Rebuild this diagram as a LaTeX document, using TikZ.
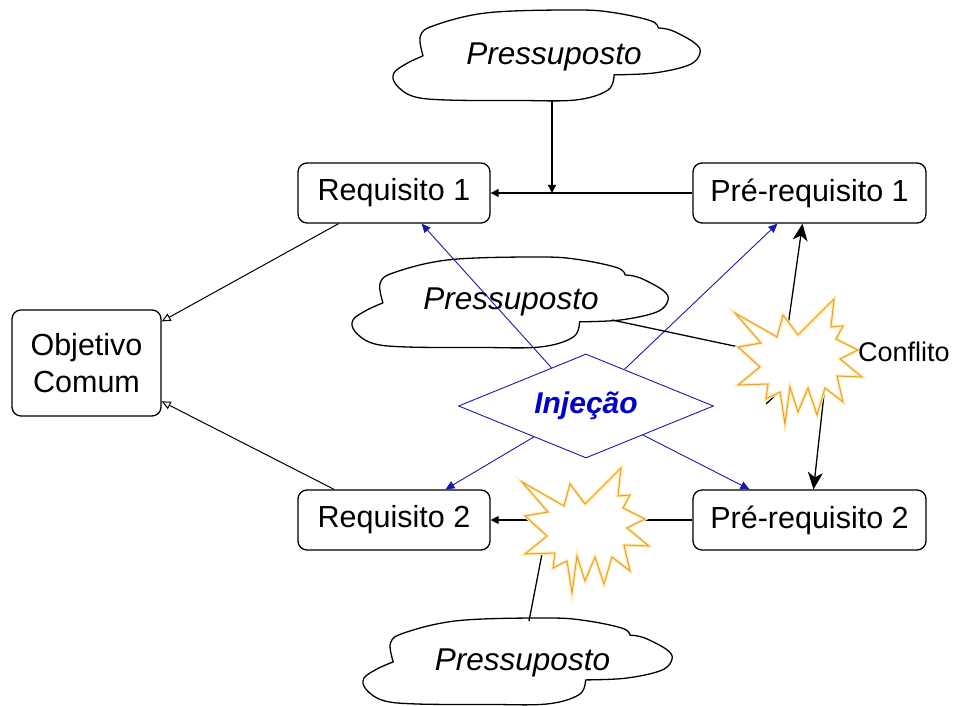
\documentclass[tikz,border=0pt]{standalone}
\usepackage{fontspec}
\setmainfont{Liberation Sans}
\usetikzlibrary{shapes.geometric,arrows.meta}

\definecolor{injblue}{RGB}{25,25,165}
\definecolor{injtext}{RGB}{0,0,200}
\definecolor{burstorange}{RGB}{232,158,55}
\definecolor{burstglow}{RGB}{255,236,170}

% cloud outline in unit coordinates, placed by shift and scale
\newcommand\pressupostocloud[4]{%
  \draw[cloudline, shift={(#1,#2)}, xscale=#3, yscale=#4]
    plot[smooth, tension=0.6] coordinates {(0.098,0.49) (0.089,0.71) (0.136,0.83) (0.31,0.97) (0.595,1.0) (0.72,0.97) (0.84,0.88) (0.864,0.80)}
    -- plot[smooth, tension=0.6] coordinates {(0.864,0.80) (0.91,0.77) (0.984,0.63) (1.0,0.52) (0.965,0.39) (0.85,0.30) (0.72,0.28)}
    -- plot[smooth, tension=0.6] coordinates {(0.72,0.28) (0.70,0.11) (0.595,0.0) (0.4,-0.005) (0.174,0.0) (0.066,0.04) (0.01,0.17) (0.003,0.30) (0.047,0.41) (0.098,0.49)};}

\tikzset{
  box/.style={draw, line width=1.3pt, rounded corners=9pt, align=center,
    font=\fontsize{30.5}{37}\selectfont, inner sep=0pt},
  link/.style={line width=1.3pt},
  thinlink/.style={line width=1pt},
  smallhead/.style={-{Triangle[length=8pt,width=8pt]}},
  bighead/.style={-{Stealth[length=17pt,width=15pt,inset=5pt]}},
  openhead/.style={-{Triangle[open,length=9pt,width=8pt]}},
  bluelink/.style={draw=injblue, line width=0.9pt, -{Triangle[length=9pt,width=8pt]}},
  cloudline/.style={line width=1.3pt, line join=round},
  cloudtext/.style={font=\fontsize{31.5}{36}\selectfont\itshape, anchor=base, inner sep=0pt},
  conflict/.pic={
    \path[draw=burstorange, line width=1pt, line join=miter,
          preaction={draw=burstglow, line width=3.2pt, fill=white}]
      (-65,47) -- (-23,23) -- (-17,45) -- (-2,25) -- (34,61) -- (31,33) -- (43,34) --
      (36,21) -- (58,10) -- (40,1) -- (62,-17) -- (37,-16) -- (43,-42) -- (25,-28) --
      (17,-55) -- (8,-28) -- (-2,-52) -- (-10,-27) -- (-15,-64) -- (-20,-32) --
      (-34,-39) -- (-32,-24) -- (-62,-25) -- (-40,-7) -- (-62,13) -- (-39,17) -- cycle;
  }
}

\begin{document}
\begin{tikzpicture}[x=1pt,y=1pt]
\useasboundingbox (0,0) rectangle (954,706);

% boxes
\node[box, minimum width=192pt, minimum height=60pt] (req1) at (394,513) {Requisito 1};
\node[box, minimum width=233pt, minimum height=60pt] (pr1) at (809.5,513) {Pré-requisito 1};
\node[box, minimum width=192pt, minimum height=60pt] (req2) at (394,186) {Requisito 2};
\node[box, minimum width=233pt, minimum height=60pt] (pr2) at (809.5,186) {Pré-requisito 2};
\node[box, minimum width=149pt, minimum height=106pt] (obj) at (86.5,343) {Objetivo\\Comum};

% injection diamond
\node[diamond, draw=injblue, line width=0.9pt, aspect=2.45, inner sep=0pt,
      minimum width=255pt, minimum height=104pt, text=injtext,
      font=\fontsize{30}{36}\selectfont\bfseries\itshape] (inj) at (586,300) {Injeção};

% assumption clouds
\pressupostocloud{393}{606}{307}{90}
\node[cloudtext] (pT) at (554,641) {Pressuposto};
\pressupostocloud{352}{359}{316}{90}
\node[cloudtext] (pM) at (511,396) {Pressuposto};
\pressupostocloud{363}{2}{309}{86}
\node[cloudtext] (pB) at (522.5,35) {Pressuposto};

% attachment points
\coordinate (pTs) at (552,606);
\coordinate (j1) at (552,513);
\coordinate (pMs) at (612,386);
\coordinate (pBs) at (529,85);
\coordinate (b1) at (800,346);
\coordinate (b1n) at (788,380);
\coordinate (b1s) at (826,330);
\coordinate (b1u) at (781,316);
\coordinate (b1t) at (766,302);
\coordinate (b2) at (587,177);
\coordinate (b2m) at (587,186);
\coordinate (b2w) at (548,183);

% requirement chain
\draw[link, smallhead] (pr1) -- (req1);
\draw[link, smallhead] (pTs) -- (j1);
\draw[thinlink, openhead] (req1) -- (obj);
\draw[thinlink, openhead] (req2) -- (obj);

% injection links
\draw[bluelink] (inj) -- (req1);
\draw[bluelink] (inj) -- (pr1);
\draw[bluelink] (inj) -- (req2);
\draw[bluelink] (inj) -- (pr2);

% conflict links
\draw[link] (pMs) -- (b1);
\draw[link, bighead] (b1n) -- ([xshift=-7pt]pr1.south);
\draw[link, bighead] (b1s) -- ([xshift=4pt]pr2.north);
\draw[link] (b1u) -- (b1t);
\draw[link] (pr2) -- (b2m);
\draw[link, smallhead] (b2m) -- (req2);
\draw[link] (pBs) -- (b2w);

% conflict bursts
\pic at (b1) {conflict};
\pic at (b2) {conflict};
\node[anchor=base west, inner sep=0pt, font=\fontsize{27}{32}\selectfont] (conf) at (858,344) {Conflito};

\end{tikzpicture}
\end{document}
